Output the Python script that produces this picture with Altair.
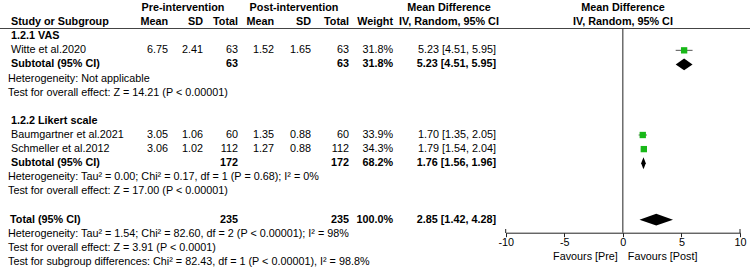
import altair as alt
import pandas as pd

# ---------------- data ----------------
studies = ["Witte et al.2020", "Baumgartner et al.2021", "Schmeller et al.2012"]
study_rows = [3, 9, 10]
pre_mean = [6.75, 3.05, 3.06]
pre_sd = [2.41, 1.06, 1.02]
pre_n = [63, 60, 112]
post_mean = [1.52, 1.35, 1.27]
post_sd = [1.65, 0.88, 0.88]
post_n = [63, 60, 112]
weight = [31.8, 33.9, 34.3]
md = [5.23, 1.70, 1.79]
md_lo = [4.51, 1.35, 1.54]
md_hi = [5.95, 2.05, 2.04]

group_labels = ["1.2.1 VAS", "1.2.2 Likert scale"]
group_rows = [2, 8]

pooled_labels = ["Subtotal (95% CI)", "Subtotal (95% CI)", "Total (95% CI)"]
pooled_rows = [4, 11, 15]
pooled_pre_n = [63, 172, 235]
pooled_post_n = [63, 172, 235]
pooled_weight = [31.8, 68.2, 100.0]
pooled_md = [5.23, 1.76, 2.85]
pooled_lo = [4.51, 1.56, 1.42]
pooled_hi = [5.95, 1.96, 4.28]

notes = [
    "Heterogeneity: Not applicable",
    "Test for overall effect: Z = 14.21 (P < 0.00001)",
    "Heterogeneity: Tau² = 0.00; Chi² = 0.17, df = 1 (P = 0.68); I² = 0%",
    "Test for overall effect: Z = 17.00 (P < 0.00001)",
    "Heterogeneity: Tau² = 1.54; Chi² = 82.60, df = 2 (P < 0.00001); I² = 98%",
    "Test for overall effect: Z = 3.91 (P < 0.0001)",
    "Test for subgroup differences: Chi² = 82.43, df = 1 (P < 0.00001), I² = 98.8%",
]
note_rows = [5, 6, 12, 13, 16, 17, 18]

axis_ticks = [-10, -5, 0, 5, 10]
favours = ["Favours [Pre]", "Favours [Post]"]

# ---------------- layout / style ----------------
FONT = "Liberation Sans"
FS = 10.8
W, H = 750, 268
GREEN = "#18b818"

COLS = {
    "name": (11, "left"),
    "total": (10, "left"),
    "note": (8, "left"),
    "pre_mean": (168, "right"),
    "pre_sd": (203, "right"),
    "pre_n": (238, "right"),
    "post_mean": (274, "right"),
    "post_sd": (311, "right"),
    "post_n": (349, "right"),
    "weight": (393, "right"),
    "md": (496, "right"),
    "pre_head": (183, "center"),
    "post_head": (294, "center"),
    "md_head": (449, "center"),
    "plot_head": (623, "center"),
}

records = []


def add(row, col, text, bold=False):
    records.append({"row": row, "col": col, "text": text, "bold": bold})


# headers
add(0, "pre_head", "Pre-intervention", True)
add(0, "post_head", "Post-intervention", True)
add(0, "md_head", "Mean Difference", True)
add(0, "plot_head", "Mean Difference", True)
add(1, "name", "Study or Subgroup", True)
for c, t in [("pre_mean", "Mean"), ("pre_sd", "SD"), ("pre_n", "Total"),
             ("post_mean", "Mean"), ("post_sd", "SD"), ("post_n", "Total"),
             ("weight", "Weight")]:
    add(1, c, t, True)
add(1, "md_head", "IV, Random, 95% CI", True)
add(1, "plot_head", "IV, Random, 95% CI", True)

for lab, r in zip(group_labels, group_rows):
    add(r, "name", lab, True)

for i, s in enumerate(studies):
    r = study_rows[i]
    add(r, "name", s)
    add(r, "pre_mean", f"{pre_mean[i]:.2f}")
    add(r, "pre_sd", f"{pre_sd[i]:.2f}")
    add(r, "pre_n", f"{pre_n[i]}")
    add(r, "post_mean", f"{post_mean[i]:.2f}")
    add(r, "post_sd", f"{post_sd[i]:.2f}")
    add(r, "post_n", f"{post_n[i]}")
    add(r, "weight", f"{weight[i]:.1f}%")
    add(r, "md", f"{md[i]:.2f} [{md_lo[i]:.2f}, {md_hi[i]:.2f}]")

for i, lab in enumerate(pooled_labels):
    r = pooled_rows[i]
    add(r, "total" if lab.startswith("Total") else "name", lab, True)
    add(r, "pre_n", f"{pooled_pre_n[i]}", True)
    add(r, "post_n", f"{pooled_post_n[i]}", True)
    add(r, "weight", f"{pooled_weight[i]:.1f}%", True)
    add(r, "md", f"{pooled_md[i]:.2f} [{pooled_lo[i]:.2f}, {pooled_hi[i]:.2f}]", True)

for t, r in zip(notes, note_rows):
    add(r, "note", t)

text_df = pd.DataFrame(records)

yscale = alt.Scale(domain=[0, 18], range=[8, 262])
xscale = alt.Scale(domain=[-10, 10], range=[505.7, 740], nice=False, zero=False)
xaxis = alt.Axis(values=axis_ticks, offset=-35.3, tickSize=4, labelPadding=0,
                 labelFont=FONT, labelFontSize=FS, labelColor="#000",
                 domainColor="#222", tickColor="#222", grid=False, title=None,
                 labelFlush=False, labelOverlap=False,
                 labelExpr="'' + datum.value")

layers = []

# text columns
for col, (xp, align) in COLS.items():
    for bold in (False, True):
        sub = text_df[(text_df.col == col) & (text_df.bold == bold)]
        if len(sub) == 0:
            continue
        layers.append(
            alt.Chart(sub).mark_text(
                align=align, baseline="middle", font=FONT, fontSize=FS,
                fontWeight="bold" if bold else "normal", color="#000"
            ).encode(
                x=alt.value(xp),
                y=alt.Y("row:Q", scale=yscale, axis=None),
                text="text:N",
            )
        )

# header line
layers.append(
    alt.Chart(pd.DataFrame({"a": [0]})).mark_rule(color="#444", strokeWidth=1).encode(
        x=alt.value(0), x2=alt.value(W), y=alt.value(28.5)
    )
)

# zero line
layers.append(
    alt.Chart(pd.DataFrame({"x": [0]})).mark_rule(color="#222", strokeWidth=1).encode(
        x=alt.X("x:Q", scale=xscale, axis=xaxis),
        y=alt.value(28.5), y2=alt.value(232.7),
    )
)

# end ticks extending upward
layers.append(
    alt.Chart(pd.DataFrame({"x": [axis_ticks[0], axis_ticks[-1]]})).mark_rule(color="#222", strokeWidth=1).encode(
        x=alt.X("x:Q", scale=xscale, axis=xaxis),
        y=alt.value(229), y2=alt.value(233),
    )
)

# study CIs and squares
study_df = pd.DataFrame({"row": study_rows, "md": md, "lo": md_lo, "hi": md_hi, "w": weight})
layers.append(
    alt.Chart(study_df).mark_rule(color="#555", strokeWidth=1).encode(
        x=alt.X("lo:Q", scale=xscale, axis=xaxis),
        x2="hi:Q",
        y=alt.Y("row:Q", scale=yscale, axis=None),
    )
)
layers.append(
    alt.Chart(study_df).mark_square(size=40, color=GREEN, opacity=1).encode(
        x=alt.X("md:Q", scale=xscale, axis=xaxis),
        y=alt.Y("row:Q", scale=yscale, axis=None),
    )
)

# diamonds
HH = 0.42
drec = []
for i in range(len(pooled_md)):
    c = pooled_rows[i]
    drec.append({"g": i, "x": pooled_lo[i], "y": c, "y2": c})
    drec.append({"g": i, "x": pooled_md[i], "y": c - HH, "y2": c + HH})
    drec.append({"g": i, "x": pooled_hi[i], "y": c, "y2": c})
dia_df = pd.DataFrame(drec)
layers.append(
    alt.Chart(dia_df).mark_area(color="#000", orient="vertical", opacity=1).encode(
        x=alt.X("x:Q", scale=xscale, axis=xaxis),
        y=alt.Y("y:Q", scale=yscale, axis=None),
        y2="y2:Q",
        detail="g:N",
    )
)

# favours labels
fav_df = pd.DataFrame({"t": favours, "x": [0, 0]})
layers.append(
    alt.Chart(fav_df.iloc[[0]]).mark_text(align="right", baseline="middle", font=FONT, fontSize=FS, dx=-5, color="#000").encode(
        x=alt.X("x:Q", scale=xscale, axis=xaxis), y=alt.value(256.5), text="t:N"
    )
)
layers.append(
    alt.Chart(fav_df.iloc[[1]]).mark_text(align="left", baseline="middle", font=FONT, fontSize=FS, dx=5, color="#000").encode(
        x=alt.X("x:Q", scale=xscale, axis=xaxis), y=alt.value(256.5), text="t:N"
    )
)

chart = alt.layer(*layers).properties(
    width=W, height=H, autosize=alt.AutoSizeParams(type="none"), padding=0,
    background="white",
).configure_view(stroke=None)

chart.save("out.html", embed_options={"renderer": "svg", "actions": False})
